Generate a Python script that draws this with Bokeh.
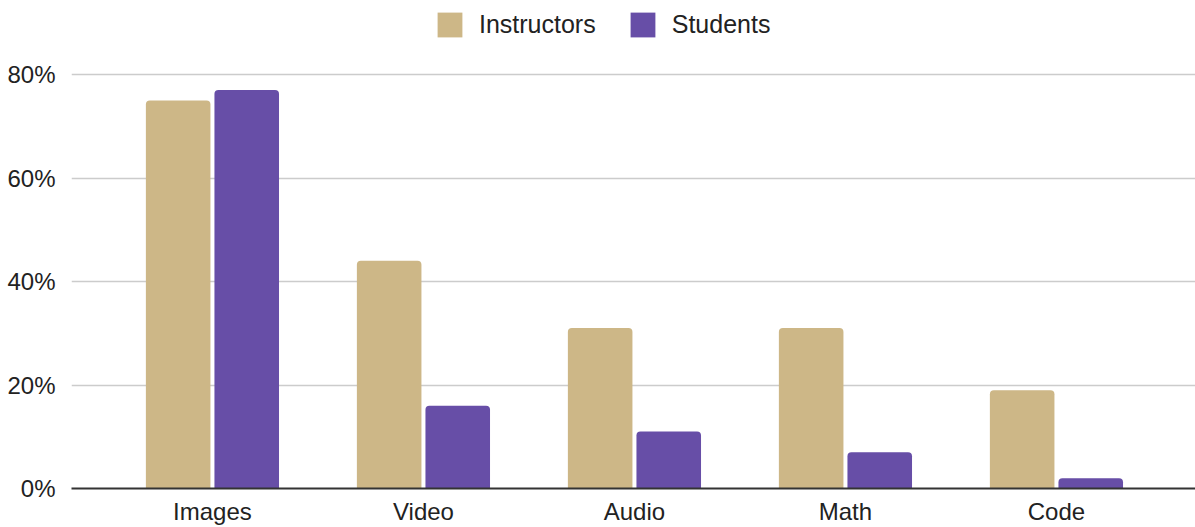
from bokeh.plotting import figure
from bokeh.models import ColumnDataSource, Legend, LegendItem, FixedTicker, Range1d
from bokeh.transform import dodge
from bokeh.embed import file_html
from bokeh.resources import INLINE

categories = ["Images", "Video", "Audio", "Math", "Code"]
instructors = [75, 44, 31, 31, 19]
students = [77, 16, 11, 7, 2]
y_ticks = [0, 20, 40, 60, 80]
y_tick_labels = ["0%", "20%", "40%", "60%", "80%"]

TAN = "#CDB787"
PURPLE = "#674EA7"
FONT = "Liberation Sans"
TXT = "#222222"

src = ColumnDataSource(dict(x=list(range(len(categories))), cat=categories,
                            instructors=instructors, students=students))

p = figure(width=1195, height=527, output_backend="svg", toolbar_location=None,
           x_range=Range1d(-0.668, 4.659), y_range=Range1d(0, 94.3),
           min_border_left=71, min_border_right=0, min_border_top=0, min_border_bottom=39)
p.outline_line_color = None

r1 = p.vbar(x=dodge("x", -0.1625, range=p.x_range), top="instructors", width=0.306,
            source=src, fill_color=TAN, line_color=None, border_radius=(4, 4, 0, 0))
r2 = p.vbar(x=dodge("x", 0.1625, range=p.x_range), top="students", width=0.306,
            source=src, fill_color=PURPLE, line_color=None, border_radius=(4, 4, 0, 0))

# axes
p.xaxis.ticker = FixedTicker(ticks=list(range(len(categories))))
p.xaxis.major_label_overrides = {i: c for i, c in enumerate(categories)}
p.xaxis.major_tick_line_color = None
p.xaxis.minor_tick_line_color = None
p.xaxis.axis_line_color = "#333333"
p.xaxis.axis_line_width = 2
p.xaxis.major_label_standoff = 3
p.xaxis.major_label_text_font = FONT
p.xaxis.major_label_text_font_size = "24px"
p.xaxis.major_label_text_color = TXT

p.yaxis.ticker = FixedTicker(ticks=y_ticks)
p.yaxis.major_label_overrides = {t: l for t, l in zip(y_ticks, y_tick_labels)}
p.yaxis.major_tick_line_color = None
p.yaxis.minor_tick_line_color = None
p.yaxis.axis_line_color = None
p.yaxis.major_label_standoff = 10
p.yaxis.major_label_text_font = FONT
p.yaxis.major_label_text_font_size = "24px"
p.yaxis.major_label_text_color = TXT

p.xgrid.grid_line_color = None
p.ygrid.grid_line_color = "#cccccc"
p.ygrid.grid_line_width = 1.5

legend = Legend(items=[LegendItem(label="Instructors", renderers=[r1]),
                       LegendItem(label="Students", renderers=[r2])],
                orientation="horizontal", location=(363, 448),
                border_line_color=None, background_fill_alpha=0,
                padding=0, margin=0, spacing=31, label_standoff=14,
                glyph_width=31, glyph_height=31,
                label_text_font=FONT, label_text_font_size="25px",
                label_text_color=TXT)
p.add_layout(legend)

open("out.html", "w").write(file_html(p, INLINE))
